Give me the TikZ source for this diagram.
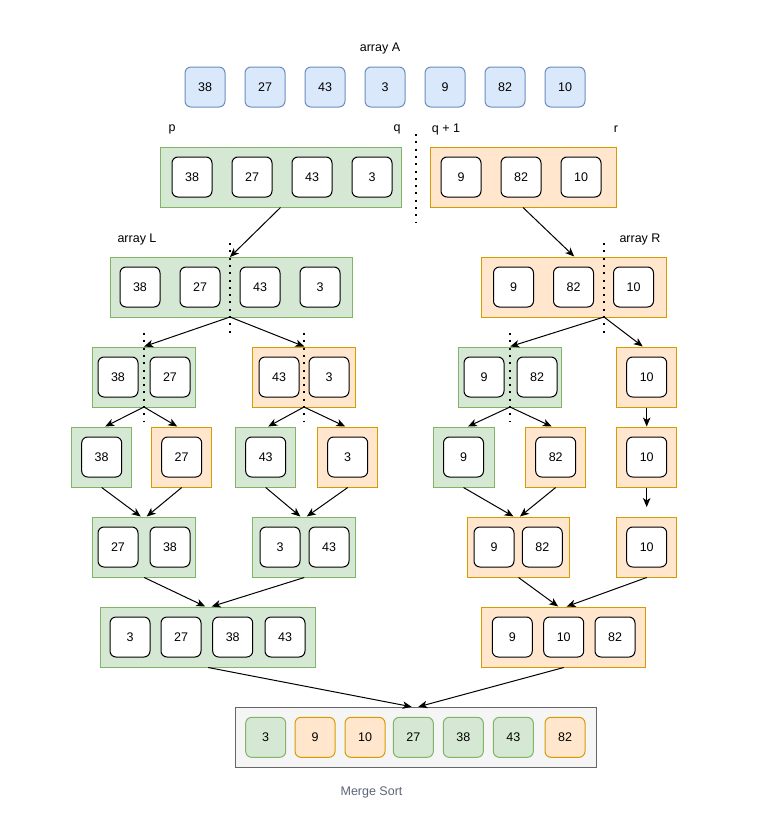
\documentclass[tikz,border=0pt]{standalone}
\usepackage{fontspec}
\setmainfont{Liberation Sans}
\usetikzlibrary{arrows.meta,calc}
\definecolor{gfill}{HTML}{D5E8D4}
\definecolor{gline}{HTML}{82B366}
\definecolor{ofill}{HTML}{FFE6CC}
\definecolor{oline}{HTML}{D79B00}
\definecolor{bfill}{HTML}{DAE8FC}
\definecolor{bline}{HTML}{6C8EBF}
\definecolor{kfill}{HTML}{F5F5F5}
\definecolor{kline}{HTML}{666666}
\definecolor{captxt}{HTML}{5A6478}
\begin{document}
\begin{tikzpicture}[x=1pt,y=-1pt,
  every node/.style={font=\fontsize{12.5}{15}\selectfont, inner sep=0pt},
  cell/.style={draw=black, fill=white, rounded corners=6pt, minimum width=40pt, minimum height=40pt, line width=1pt},
  bcell/.style={cell, draw=bline, fill=bfill},
  gcell/.style={cell, draw=gline, fill=gfill},
  ocell/.style={cell, draw=oline, fill=ofill},
  gbox/.style={draw=gline, fill=gfill, line width=1pt, minimum height=60pt},
  obox/.style={draw=oline, fill=ofill, line width=1pt, minimum height=60pt},
  kbox/.style={draw=kline, fill=kfill, line width=1pt, minimum height=60pt},
  lbl/.style={text=black},
  dots/.style={line width=2pt, dash pattern=on 2pt off 5.3pt},
  arr/.style={line width=1pt, -{Stealth[length=9pt,width=7.5pt,inset=2.5pt]}}
]
\useasboundingbox (0,0) rectangle (763,838);

% array A
\node[lbl] (tA) at (380,48) {array A};
\node[bcell] (a1) at (205,87) {38};
\node[bcell] (a2) at (265,87) {27};
\node[bcell] (a3) at (325,87) {43};
\node[bcell] (a4) at (385,87) {3};
\node[bcell] (a5) at (445,87) {9};
\node[bcell] (a6) at (505,87) {82};
\node[bcell] (a7) at (565,87) {10};

% row 2
\node[lbl] (tp) at (172,129) {p};
\node[lbl] (tq) at (397,129) {q};
\node[lbl] (tq1) at (446,129) {q + 1};
\node[lbl] (tr) at (616,129) {r};
\node[gbox, minimum width=241pt] (b2L) at (280.5,177) {};
\node[cell] at (192,177) {38};
\node[cell] at (252,177) {27};
\node[cell] at (312,177) {43};
\node[cell] at (372,177) {3};
\node[obox, minimum width=186pt] (b2R) at (523,177) {};
\node[cell] at (461,177) {9};
\node[cell] at (521,177) {82};
\node[cell] at (581,177) {10};
\coordinate (d0t) at (416,134);
\coordinate (d0b) at (416,222);
\draw[dots] (d0t) -- (d0b);

% row 3
\node[lbl] (tL) at (137,239) {array L};
\node[lbl] (tR) at (640,239) {array R};
\node[gbox, minimum width=242pt] (b3L) at (231,287) {};
\node[cell] at (140,287) {38};
\node[cell] at (200,287) {27};
\node[cell] at (260,287) {43};
\node[cell] at (320,287) {3};
\node[obox, minimum width=185pt] (b3R) at (574.2,287) {};
\node[cell] at (513.5,287) {9};
\node[cell] at (573.5,287) {82};
\node[cell] at (633.5,287) {10};
\coordinate (dLt) at (230,243);
\coordinate (dLb) at (230,333);
\coordinate (dRt) at (604,243);
\coordinate (dRb) at (604,333);
\coordinate (dLm) at (230,317);
\coordinate (dRm) at (604,317);
\coordinate (dLn) at (230,257);

% row 4
\node[gbox, minimum width=103pt] (b4a) at (144.2,377) {};
\node[cell] at (118,377) {38};
\node[cell] at (170,377) {27};
\node[obox, minimum width=103pt] (b4b) at (304.3,377) {};
\node[cell] at (279,377) {43};
\node[cell] at (329,377) {3};
\node[gbox, minimum width=103pt] (b4c) at (510.3,377) {};
\node[cell] at (484,377) {9};
\node[cell] at (537,377) {82};
\node[obox, minimum width=60pt] (b4d) at (646.7,377) {};
\node[cell] at (646.7,377) {10};
\coordinate (d4at) at (144,333);
\coordinate (d4ab) at (144,422);
\coordinate (d4bt) at (304,333);
\coordinate (d4bb) at (304,422);
\coordinate (d4ct) at (510,333);
\coordinate (d4cb) at (510,422);
\coordinate (d4am) at (144,407);
\coordinate (d4bm) at (304,407);
\coordinate (d4cm) at (510,407);

% row 5
\node[gbox, minimum width=60pt] (b5a) at (101.7,457) {};
\node[cell] at (101.7,457) {38};
\node[obox, minimum width=60pt] (b5b) at (181.7,457) {};
\node[cell] at (181.7,457) {27};
\node[gbox, minimum width=60pt] (b5c) at (265.7,457) {};
\node[cell] at (265.7,457) {43};
\node[obox, minimum width=60pt] (b5d) at (347.7,457) {};
\node[cell] at (347.7,457) {3};
\node[gbox, minimum width=61pt] (b5e) at (463.5,457) {};
\node[cell] at (463.5,457) {9};
\node[obox, minimum width=60pt] (b5f) at (555.7,457) {};
\node[cell] at (555.7,457) {82};
\node[obox, minimum width=60pt] (b5g) at (646.7,457) {};
\node[cell] at (646.7,457) {10};
\coordinate (e5g) at (646.7,507);

% row 6
\node[gbox, minimum width=103pt] (b6a) at (144.2,547) {};
\node[cell] at (118,547) {27};
\node[cell] at (170,547) {38};
\node[gbox, minimum width=103pt] (b6b) at (304.3,547) {};
\node[cell] at (280,547) {3};
\node[cell] at (329,547) {43};
\node[obox, minimum width=101.6pt] (b6c) at (518.5,547) {};
\node[cell] at (494,547) {9};
\node[cell] at (542.3,547) {82};
\node[obox, minimum width=60pt] (b6d) at (646.7,547) {};
\node[cell] at (646.7,547) {10};

% row 7
\node[gbox, minimum width=215pt] (b7a) at (208.2,637) {};
\node[cell] at (130,637) {3};
\node[cell] at (181,637) {27};
\node[cell] at (232.7,637) {38};
\node[cell] at (285,637) {43};
\node[obox, minimum width=164pt] (b7b) at (563.7,637) {};
\node[cell] at (512.3,637) {9};
\node[cell] at (563.7,637) {10};
\node[cell] at (615,637) {82};

% row 8
\node[kbox, minimum width=361pt] (b8) at (415.5,737.3) {};
\node[gcell] at (265.7,737.3) {3};
\node[ocell] at (315,737.3) {9};
\node[ocell] at (365,737.3) {10};
\node[gcell] at (413.3,737.3) {27};
\node[gcell] at (463.3,737.3) {38};
\node[gcell] at (513.3,737.3) {43};
\node[ocell] at (565,737.3) {82};
\node[text=captxt] (cap) at (371.5,792) {Merge Sort};

% dotted split lines
\draw[dots] (dLt) -- (dLb);
\draw[dots] (dRt) -- (dRb);
\draw[dots] (d4at) -- (d4ab);
\draw[dots] (d4bt) -- (d4bb);
\draw[dots] (d4ct) -- (d4cb);

% arrows
\draw[arr] (b2L.south) -- (dLn);
\draw[arr] (b2R.south) -- ($(b3R.north)+(0,0)$);
\draw[arr] (dLm) -- (b4a.north);
\draw[arr] (dLm) -- (b4b.north);
\draw[arr] (dRm) -- (b4c.north);
\draw[arr] (dRm) -- ($(b4d.north)+(-4,0)$);
\draw[arr] (d4am) -- ($(b5a.north)+(3.5,0)$);
\draw[arr] (d4am) -- ($(b5b.north)+(-4.5,0)$);
\draw[arr] (d4bm) -- ($(b5c.north)+(2.5,0)$);
\draw[arr] (d4bm) -- ($(b5d.north)+(-2.5,0)$);
\draw[arr] (d4cm) -- ($(b5e.north)+(4.5,0)$);
\draw[arr] (d4cm) -- ($(b5f.north)+(-4,0)$);
\draw[arr] (b4d.south) -- (b5g.north);
\draw[arr] (b5g.south) -- (e5g);
\draw[arr] (b5a.south) -- ($(b6a.north)+(-3.5,0)$);
\draw[arr] (b5b.south) -- ($(b6a.north)+(2.5,0)$);
\draw[arr] (b5c.south) -- ($(b6b.north)+(-4,0)$);
\draw[arr] (b5d.south) -- ($(b6b.north)+(2.5,0)$);
\draw[arr] (b5e.south) -- ($(b6c.north)+(-5,0)$);
\draw[arr] (b5f.south) -- ($(b6c.north)+(1.5,0)$);
\draw[arr] (b6a.south) -- ($(b7a.north)+(-3,0)$);
\draw[arr] (b6b.south) -- ($(b7a.north)+(3.5,0)$);
\draw[arr] (b6c.south) -- ($(b7b.north)+(-5.5,0)$);
\draw[arr] (b6d.south) -- ($(b7b.north)+(3,0)$);
\draw[arr] (b7a.south) -- ($(b8.north)+(-3.8,0)$);
\draw[arr] (b7b.south) -- ($(b8.north)+(2.8,0)$);
\end{tikzpicture}
\end{document}
